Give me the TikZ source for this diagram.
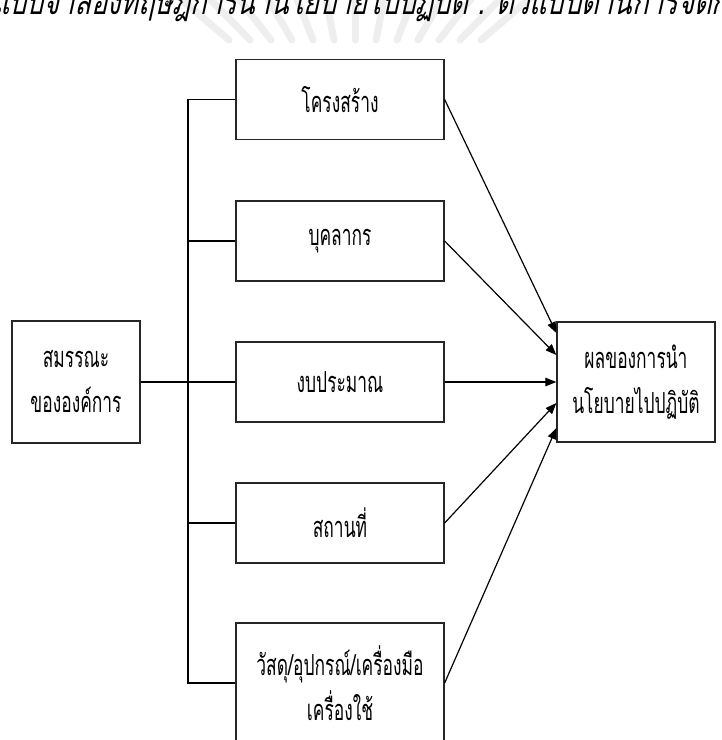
\documentclass[tikz,border=0pt]{standalone}
\usepackage{fontspec}
\usetikzlibrary{arrows.meta}
\newfontfamily\thaibox[Script=Thai,FakeStretch=0.6]{Loma}
\newfontfamily\thaihead[Script=Thai,FakeSlant=0.22,FakeStretch=0.75]{Loma}
\begin{document}
\begin{tikzpicture}[x=1pt,y=-1pt,
  box/.style={draw=black!85, line width=1.3pt, inner sep=0pt, align=center,
    font=\thaibox\fontsize{29}{45}\selectfont},
  midbox/.style={box, minimum width=208pt, minimum height=80pt},
  link/.style={line width=1.2pt},
  arr/.style={line width=1.2pt, -{Triangle[length=11pt,width=8.5pt]}},
  ray/.style={line width=7pt, line cap=round, draw=gray!13}]
\useasboundingbox (0,0) rectangle (722,740);
\fill[white] (0,0) rectangle (722,740);

% faint emblem rays behind the heading
\foreach \i in {-6,...,6}
  \draw[ray] ({355+\i*21},40) -- ({355+\i*21+\i*9},-6);

% heading line, cut by the top edge
\node[anchor=base west, inner sep=0pt, font=\thaihead\fontsize{36}{36}\selectfont] (head) at (-8,14)
  {แบบจำลองทฤษฎีการนำนโยบายไปปฏิบัติ : ตัวแบบด้านการจัดการ};

% boxes
\node[box, minimum width=128pt, minimum height=122pt] (org) at (76,382) {สมรรณะ\\ขององค์การ};
\node[midbox] (struct) at (340,99.5) {โครงสร้าง};
\node[midbox] (person) at (340,241) {บุคลากร};
\node[midbox] (budget) at (340,382) {งบประมาณ};
\node[midbox] (place)  at (340,523) {สถานที่};
\node[box, minimum width=208pt, minimum height=120pt] (tools) at (340,683) {วัสดุ/อุปกรณ์/เครื่องมือ\\เครื่องใช้};
\node[box, minimum width=158pt, minimum height=120pt] (result) at (636,382) {ผลของการนำ\\นโยบายไปปฏิบัติ};

% branching trunk
\coordinate (jn) at (188,382);
\draw[link] (org.east) -- (budget.west);
\draw[link] (struct.west) -- (struct.west -| jn) -- (tools.west -| jn) -- (tools.west);
\draw[link] (person.west) -- (person.west -| jn);
\draw[link] (place.west) -- (place.west -| jn);

% converging arrows
\coordinate (in1) at ([yshift=49pt]result.west);
\coordinate (in2) at ([yshift=27pt]result.west);
\coordinate (in4) at ([yshift=-21pt]result.west);
\coordinate (in5) at ([yshift=-46pt]result.west);
\draw[arr] (struct.east) -- (in1);
\draw[arr] (person.east) -- (in2);
\draw[arr] (budget.east) -- (result.west);
\draw[arr] (place.east) -- (in4);
\draw[arr] (tools.east) -- (in5);
\end{tikzpicture}
\end{document}
